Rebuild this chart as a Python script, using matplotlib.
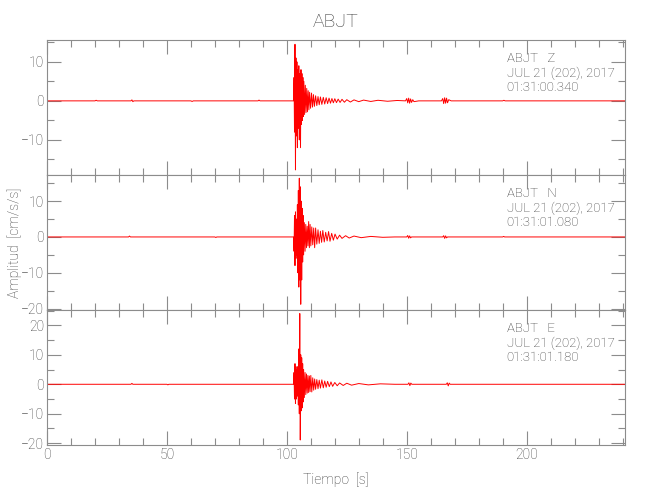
import matplotlib
matplotlib.use("Agg")
import matplotlib.pyplot as plt
from matplotlib.ticker import MultipleLocator

plt.rcParams['font.family'] = ['Roboto', 'DejaVu Sans']
plt.rcParams['font.weight'] = 'light'

estacion = "ABJT"
componentes = ["Z", "N", "E"]
fecha = "JUL 21 (202), 2017"
horas = ["01:31:00.340", "01:31:01.080", "01:31:01.180"]
limites_y = [(-19, 15.6), (-20.4, 17.3), (-20.6, 25.2)]

# picos leidos a mano del sismograma (tiempo en s, amplitud en cm/s/s)
t_z = [0, 20, 20.5, 21, 35, 35.4, 35.8, 36.2, 60, 60.5, 61, 88, 88.4, 88.8, 102.8,
       103.0, 103.2, 103.4, 103.6, 103.8, 104.0, 104.2, 104.4, 104.6, 104.8, 105.0,
       105.2, 105.4, 105.7, 105.9, 106.1, 106.3, 106.5, 106.7, 106.9, 107.1, 107.4,
       107.7, 108.0, 108.3, 108.6, 108.9, 109.2, 109.5, 109.9, 110.3, 110.7, 111.1,
       111.5, 112.0, 112.5, 113.0, 113.5, 114.0, 114.6, 115.2, 115.8, 116.4, 117.0,
       117.6, 118.2, 118.8, 119.4, 120, 120.7, 121.4, 122.2, 123, 124, 125, 126.5,
       128, 130, 132, 135, 138, 142, 146, 149.5, 150, 150.4, 150.8, 151.2, 151.6,
       152.0, 152.5, 153, 155, 164.5, 165, 165.4, 165.8, 166.2, 166.6, 167, 167.5,
       168.5, 190, 190.5, 191, 241]
a_z = [0, 0, 0.15, 0, 0, 0.25, -0.2, 0, 0, -0.15, 0, 0, 0.2, 0, 0,
       6, -8, 14.5, -17.7, 11, -9, 10, -12, 8, -7, 9,
       -10, 7, -12, 8, -6, 7, -5, 6, -4, 5, -3.5,
       4, -3, 3.2, -2.8, 2.6, -2.3, 2.2, -1.9, 2, -1.6, 1.6,
       -1.4, 1.3, -1.2, 1.1, -1, 1, -0.9, 0.9, -0.8, 0.8, -0.7,
       0.7, -0.6, 0.6, -0.5, 0.55, -0.45, 0.45, -0.4, 0.4, -0.35, 0.3, -0.3,
       0.25, -0.2, 0.2, -0.15, 0.15, -0.1, 0.1, 0, 0.6, -0.5, 0.7, -0.6, 0.5,
       -0.4, 0.3, -0.2, 0, 0, 0.6, -0.7, 0.8, -0.6, 0.7, -0.5, 0.3,
       0, 0, 0.15, 0, 0]

t_n = [0, 34, 34.4, 34.8, 70, 70.4, 70.8, 102.8, 103.0, 103.2, 103.4, 103.6, 103.8,
       104.0, 104.2, 104.4, 104.6, 104.8, 105.0, 105.2, 105.4, 105.6, 105.8, 106.0,
       106.2, 106.4, 106.6, 106.8, 107.0, 107.3, 107.6, 107.9, 108.2, 108.5, 108.8,
       109.1, 109.4, 109.7, 110.0, 110.4, 110.8, 111.2, 111.6, 112.0, 112.5, 113.0,
       113.5, 114.0, 114.5, 115.0, 115.6, 116.2, 116.8, 117.4, 118.0, 118.7, 119.4,
       120.1, 121, 122, 123, 124.5, 126, 128, 131, 135, 140, 145, 150, 150.4, 150.8,
       151.2, 151.6, 152, 165, 165.4, 165.8, 166.2, 166.6, 167, 190, 190.4, 190.8, 241]
a_n = [0, 0, 0.25, 0, 0, -0.15, 0, 0, -4, 6, -8, 7, -6,
       5, -5, 9, -10, 13, -14, 16.4, -12, 14, -18.8, 10,
       -12, 8, -7, 6, -5, 4, -4, 3.5, -3, 3, -2.5,
       4.3, -3, 3.5, -2.5, 2.8, -2.2, 2.5, -3, 2.5, -2, 2,
       -1.8, 1.6, -1.5, 1.8, -1.4, 1.3, -1.1, 1.5, -1.2, 1, -0.9,
       0.8, -0.6, 0.5, -0.4, 0.35, -0.3, 0.25, -0.2, 0.15, -0.1, 0, 0, 0.4, -0.35,
       0.3, -0.25, 0, 0, 0.35, -0.4, 0.3, -0.25, 0, 0, 0.15, 0, 0]

t_e = [0, 35, 35.4, 35.8, 50, 50.4, 50.8, 102.8, 103.0, 103.2, 103.4, 103.6, 103.8,
       104.0, 104.2, 104.4, 104.6, 104.8, 105.0, 105.2, 105.4, 105.6, 105.8, 106.0,
       106.2, 106.4, 106.6, 106.8, 107.0, 107.3, 107.6, 107.9, 108.2, 108.5, 108.8,
       109.1, 109.4, 109.7, 110.0, 110.4, 110.8, 111.2, 111.6, 112.0, 112.5, 113.0,
       113.5, 114.0, 114.6, 115.2, 115.8, 116.4, 117.0, 117.7, 118.4, 119.1, 120,
       121, 122, 123.5, 125, 127, 130, 134, 139, 145, 150.5, 150.9, 151.3, 151.7,
       152.1, 166.5, 166.9, 167.3, 167.7, 168.1, 241]
a_e = [0, 0, 0.3, 0, 0, -0.2, 0, 0, 4, -5, 7, -6.5, 6,
       -5, 5, -4, 6, -7, 12, -10, 24, -18.9, 10, -9,
       9, -8, 7, -6, 5, -4.5, 4, -3.5, 3.5, -3, 3,
       -2.8, 2.8, -2.5, 3, -2.6, 2.2, -2, 1.8, -1.7, 1.6, -1.5,
       1.4, -1.3, 1.5, -1.2, 1.1, -1, 1, -0.8, 0.8, -0.7, 0.6,
       -0.5, 0.45, -0.4, 0.35, -0.3, 0.25, -0.2, 0.15, 0, 0, 0.5, -0.45, 0.4,
       0, 0, 0.5, -0.55, 0.4, 0, 0]

tiempos = [t_z, t_n, t_e]
amplitudes = [a_z, a_n, a_e]

gris = "#8c8c8c"
texto = "#3a3a3a"

fig = plt.figure(figsize=(6.5, 5), dpi=100)
ejes = []
for i in range(3):
    ax = fig.add_axes([47 / 650, 1 - (175 + 135 * i) / 500, 578 / 650, 135 / 500])
    ejes.append(ax)
    ax.plot(tiempos[i], amplitudes[i], color="red", lw=0.7)
    ax.set_xlim(0, 241)
    ax.set_ylim(*limites_y[i])
    ax.xaxis.set_major_locator(MultipleLocator(50))
    ax.xaxis.set_minor_locator(MultipleLocator(10))
    ax.yaxis.set_major_locator(MultipleLocator(10))
    ax.yaxis.set_minor_locator(MultipleLocator(5))
    ax.tick_params(which="both", direction="in", top=True, right=True,
                   color=gris, labelcolor=texto, labelsize=10, pad=2)
    ax.tick_params(which="major", length=10, width=0.8)
    ax.tick_params(which="minor", length=5, width=0.8)
    for s in ax.spines.values():
        s.set_color(gris)
        s.set_linewidth(0.8)
    if i < 2:
        ax.tick_params(labelbottom=False)
    ax.text(0.795, 0.865, estacion + "   " + componentes[i], transform=ax.transAxes,
            fontsize=9.5, color=texto, va="center")
    ax.text(0.795, 0.755, fecha, transform=ax.transAxes,
            fontsize=9.5, color=texto, va="center")
    ax.text(0.795, 0.645, horas[i], transform=ax.transAxes,
            fontsize=9.5, color=texto, va="center")

fig.text(336 / 650, 1 - 22 / 500, estacion, fontsize=14, color=texto,
         ha="center", va="center")
ejes[1].set_ylabel("Amplitud  [cm/s/s]", fontsize=10, color=texto, fontweight="light")
ejes[1].yaxis.set_label_coords(-0.043, 0.5)
ejes[2].set_xlabel("Tiempo  [s]", fontsize=10, color=texto, fontweight="light")
ejes[2].xaxis.set_label_coords(0.5, -0.2)

fig.savefig("out.png", dpi=100)
